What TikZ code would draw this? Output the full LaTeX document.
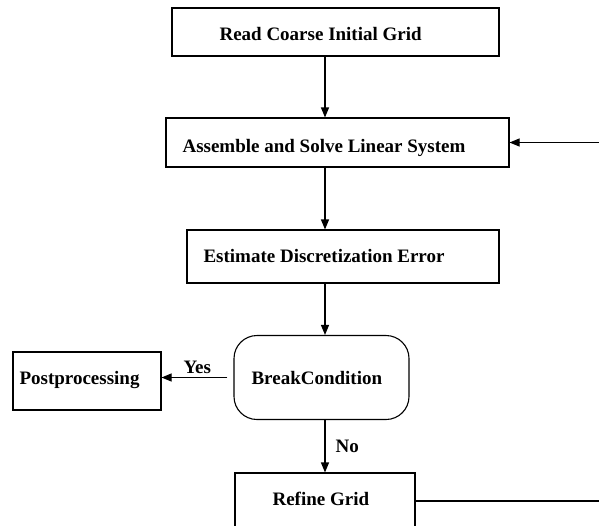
\documentclass[tikz,border=0pt]{standalone}
\usepackage{fontspec}
\setmainfont{Liberation Serif}
\usetikzlibrary{arrows.meta}

\begin{document}
\begin{tikzpicture}[x=1pt,y=-1pt,line width=1.1pt,
    box/.style={draw,inner sep=0pt},
    txt/.style={anchor=base west,inner sep=0pt,font=\fontsize{19}{22}\selectfont\bfseries},
    flow/.style={-{Stealth[length=10pt,width=8pt,inset=0pt]}}]
  \useasboundingbox (0,0) rectangle (599,525); \clip (0,0) rectangle (599,525);
  % boxes
  \node[box,minimum width=327pt,minimum height=48pt] (read) at (335.5,32) {};
  \node[box,minimum width=343pt,minimum height=49pt] (solve) at (337.5,142.5) {};
  \node[box,minimum width=312pt,minimum height=53pt] (est) at (343,256.5) {};
  \node[box,rounded corners=23pt,minimum width=175pt,minimum height=84pt] (brk) at (321.5,377.5) {};
  \node[box,minimum width=148pt,minimum height=58pt] (post) at (87,381) {};
  \node[box,minimum width=180pt,minimum height=56pt] (refine) at (325,501) {};
  % texts
  \node[txt] (tread) at (219,40) {Read Coarse Initial Grid};
  \node[txt] (tsolve) at (182,152) {Assemble and Solve Linear System};
  \node[txt] (test) at (203,262) {Estimate Discretization Error};
  \node[txt] (tbrk) at (251,384) {BreakCondition};
  \node[txt] (tpost) at (19,384) {Postprocessing};
  \node[txt] (trefine) at (272,505) {Refine Grid};
  \node[txt] (yes) at (183,373) {Yes};
  \node[txt] (no) at (335,452) {No};
  % connectors
  \coordinate (spine) at (325,0);
  \path[flow] (read.south -| spine) edge (solve.north -| spine)
    (solve.south -| spine) edge (est.north -| spine)
    (est.south -| spine) edge (brk.north -| spine)
    (brk.south -| spine) edge (refine.north -| spine)
    ([xshift=-6pt]brk.west) edge (post.east |- brk.west);
  \draw[flow] (refine.east) -- ++(220,0) |- (solve.east);
\end{tikzpicture}
\end{document}
